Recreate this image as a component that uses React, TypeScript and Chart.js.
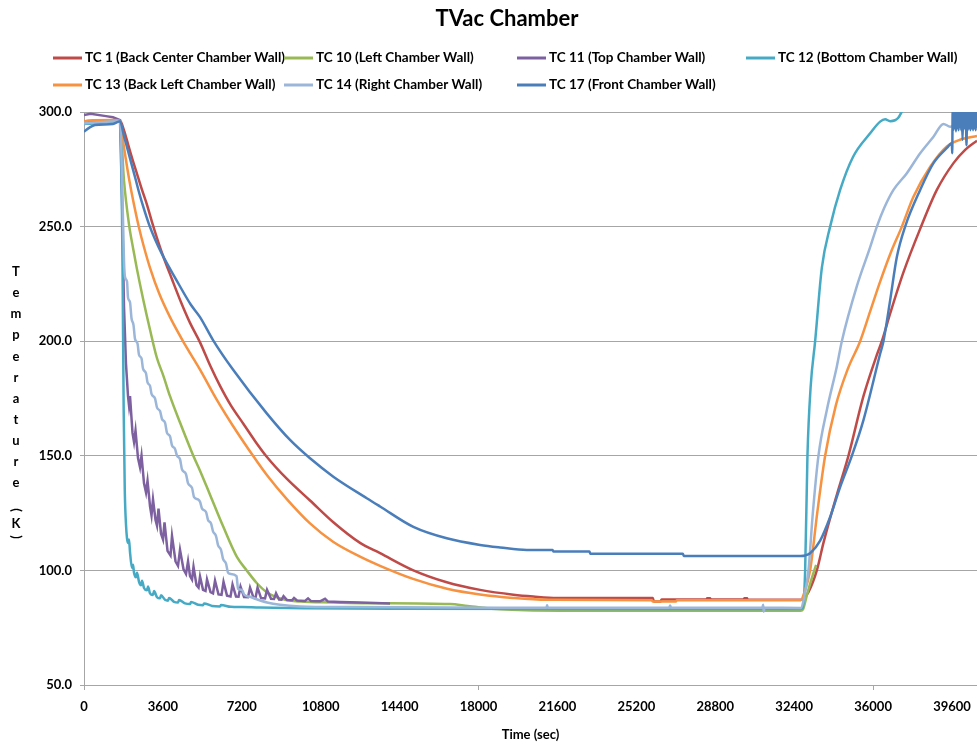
import React, { useEffect, useRef } from "react";
import { Chart, registerables } from "chart.js";

Chart.register(...registerables);

const chartTitle = "TVac Chamber";
const xAxisTitle = "Time (sec)";
const yAxisTitleChars = ["T", "e", "m", "p", "e", "r", "a", "t", "u", "r", "e"];
const xTickValues = [0, 3600, 7200, 10800, 14400, 18000, 21600, 25200, 28800, 32400, 36000, 39600];
const yTickValues = [50, 100, 150, 200, 250, 300];

const seriesNames = [
  "TC 1 (Back Center Chamber Wall)",
  "TC 10 (Left Chamber Wall)",
  "TC 11 (Top Chamber Wall)",
  "TC 12 (Bottom Chamber Wall)",
  "TC 13 (Back Left Chamber Wall)",
  "TC 14 (Right Chamber Wall)",
  "TC 17 (Front Chamber Wall)",
];
const seriesColors = ["#BE4B48", "#98B954", "#7D60A0", "#46AAC5", "#F69240", "#9BB6D8", "#4A7EBB"];
const smoothSeries = [true, true, false, true, true, true, true];

// [time (s), temperature (K)]
const tc1: number[][] = [
  [0, 295.8], [1000, 296.1], [1643, 296.2], [1825, 292], [2008, 286], [2190, 280], [2418, 273],
  [2647, 266], [2875, 259.5], [3103, 252], [3331, 245], [3559, 238.5], [4015, 227], [4426, 217],
  [4837, 208], [5293, 199.5], [5750, 189.5], [6206, 180.5], [6700, 172], [7269, 164], [7800, 156.5],
  [8337, 149.6], [9249, 140], [10312, 130.5], [11375, 121], [12594, 112], [13506, 107.5], [15026, 100],
  [16550, 94.8], [18069, 91.5], [19589, 89.4], [20500, 88.6], [21570, 88], [25950, 88], [26000, 86.4],
  [26300, 86.4], [26350, 87.3], [28400, 87.3], [28430, 87.8], [28560, 87.8], [28600, 87.3], [30100, 87.3],
  [30130, 87.8], [30250, 87.8], [30280, 87.3], [32700, 87.2], [32850, 88], [33050, 90.5], [33433, 100],
  [33735, 112], [34346, 133], [34875, 150], [35560, 176], [36170, 194], [36399, 200], [36776, 212],
  [37383, 230], [38147, 249], [38908, 266], [39667, 277.7], [40200, 283.5], [40740, 287.5],
];

const tc10: number[][] = [
  [0, 295], [300, 295.3], [1643, 296], [1825, 270], [2053, 251], [2250, 240], [2405, 232], [2706, 218],
  [3012, 205], [3317, 193], [3618, 185], [3924, 176], [4380, 164.5], [4987, 150], [5293, 143.5],
  [5749, 133], [6356, 119], [6968, 106], [7424, 100], [7880, 94.5], [8337, 90.5], [9094, 87.4],
  [9856, 86.4], [11362, 86], [12900, 85.7], [16700, 85.3], [17500, 84.5], [18982, 83], [21720, 82.4],
  [32700, 82.4], [32800, 83], [33000, 90], [33250, 98], [33400, 102.4],
];

const tc11: number[][] = [
  [0, 298.7], [300, 299.2], [1000, 298.2], [1320, 297.7], [1643, 296.5], [1734, 262], [1825, 215], [1916, 190],
  [2008, 176], [2053, 172], [2099, 176], [2213, 160], [2282, 156], [2350, 161], [2464, 149], [2555, 145],
  [2624, 150], [2738, 138], [2829, 134], [2898, 139], [3012, 128], [3080, 124], [3148, 131], [3263, 122],
  [3331, 119.5], [3399, 127], [3514, 116], [3605, 113.5], [3673, 121], [3810, 108.5], [3947, 106.5],
  [4015, 115], [4175, 104], [4289, 102], [4380, 109], [4540, 100.5], [4654, 98.5], [4746, 104],
  [4837, 97.5], [4928, 96], [4996, 101.6], [5133, 93.5], [5225, 92.5], [5293, 97.3], [5430, 91.5],
  [5544, 91], [5612, 96], [5772, 90.5], [5886, 90], [5978, 95.5], [6137, 89.5], [6274, 89.3], [6365, 95],
  [6525, 89], [6685, 88.6], [6776, 93.8], [6936, 88.6], [7050, 88.5], [7141, 92.9], [7301, 88.4],
  [7483, 88.3], [7575, 92.5], [7734, 88.1], [7825, 88], [7917, 92.5], [8077, 87.9], [8259, 87.8],
  [8350, 91.5], [8533, 87.6], [8670, 87.5], [8761, 90], [8898, 87.3], [9012, 87.2], [9103, 88.8],
  [9263, 87.1], [9491, 87], [9582, 88], [9719, 86.9], [10084, 86.7], [10221, 87.8], [10358, 86.6],
  [10769, 86.5], [10997, 87.6], [11134, 86.4], [11681, 86.2], [12594, 86], [13963, 85.6],
];

const tc12: number[][] = [
  [0, 294.8], [400, 295], [1643, 296], [1700, 285], [1760, 230], [1810, 170], [1860, 135], [1916, 120],
  [1962, 114], [2008, 112], [2053, 113.5], [2099, 108], [2190, 101], [2236, 102.5], [2282, 99], [2373, 97],
  [2418, 99], [2510, 95], [2601, 93.5], [2647, 95.5], [2738, 92.3], [2875, 91.3], [2920, 93], [3012, 90],
  [3148, 89.3], [3194, 91], [3331, 88.3], [3468, 87.8], [3514, 89.2], [3696, 87.2], [3833, 86.8], [3879, 88],
  [4106, 86.3], [4289, 86], [4335, 87.1], [4609, 85.6], [4837, 85.3], [4882, 86.2], [5202, 85], [5430, 84.8],
  [5476, 85.6], [5840, 84.5], [6206, 84.3], [6252, 84.9], [6700, 84.1], [7200, 84], [8000, 83.8],
  [10000, 83.5], [14000, 83.3], [32700, 83.2], [32780, 83.5], [32900, 100], [33005, 150], [33150, 180],
  [33356, 200], [33661, 232], [34040, 250], [34496, 266], [35089, 280.5], [35865, 290.7], [36321, 295.8],
  [36550, 296.8], [36777, 296], [37000, 296.4], [37150, 297.5], [37311, 300.2], [37500, 304],
];

const tc13: number[][] = [
  [0, 295.8], [200, 296.3], [1320, 296.5], [1643, 296.2], [1825, 284.5], [2053, 271], [2282, 259.5],
  [2510, 249.5], [2738, 241], [3012, 232], [3422, 221], [3924, 210.5], [4609, 198.5], [5293, 187.6],
  [6055, 174.5], [6799, 163], [7712, 150], [8350, 141.5], [9263, 131], [10312, 120.5], [11362, 112.5],
  [12594, 106], [13506, 102], [15012, 96.3], [16564, 92], [18069, 89.5], [19575, 88], [21127, 87.2],
  [25900, 87], [25950, 86.4], [27000, 86.4], [27050, 87], [32700, 87], [32850, 90], [33127, 100],
  [33450, 125], [33812, 150], [34300, 172], [34850, 188], [35409, 200], [35866, 213], [36321, 226],
  [36800, 238.5], [37312, 250], [37840, 263], [38600, 276], [39364, 285], [40000, 288], [40740, 289.5],
];

const tc14: number[][] = [
  [0, 295], [1643, 296], [1734, 272], [1825, 235], [1871, 228], [1962, 226], [2008, 219], [2099, 217],
  [2167, 210], [2259, 207], [2327, 201], [2441, 199], [2510, 194], [2624, 192.5], [2692, 188], [2829, 186],
  [2898, 182], [3012, 180.5], [3080, 177], [3240, 175], [3331, 171], [3468, 169.5], [3559, 166],
  [3696, 164.5], [3787, 160], [3924, 158.5], [4015, 154.5], [4152, 153], [4244, 150], [4380, 148.5],
  [4472, 144], [4654, 142], [4746, 138], [4928, 136], [5019, 132], [5202, 131], [5293, 130], [5384, 127],
  [5567, 125.5], [5658, 122], [5795, 120.5], [5886, 117], [6023, 115], [6114, 111], [6251, 109],
  [6343, 105], [6480, 103], [6571, 99], [6662, 98.5], [6959, 97.5], [7027, 92], [7210, 91.5], [7301, 89.5],
  [7575, 88.5], [7848, 87.5], [8350, 86], [8943, 85], [9856, 84.3], [12138, 84], [18982, 83.7],
  [21100, 83.7], [21127, 84.8], [21160, 83.7], [26700, 83.7], [26739, 84.7], [26780, 83.7], [30950, 83.7],
  [30983, 85], [31010, 82], [31040, 83.7], [32700, 83.6], [32850, 88], [33050, 100], [33250, 125],
  [33506, 150], [33890, 170], [34346, 189], [34574, 200], [35259, 224], [35866, 241], [36171, 250],
  [36500, 258], [36929, 266], [37540, 273.3], [38147, 282], [38754, 289.2], [39210, 294.8], [39516, 293.6],
  [39800, 294.5], [40740, 296],
];

const tc17: number[][] = [
  [0, 291.4], [250, 293.2], [500, 294.3], [1320, 294.8], [1643, 296], [1825, 289.5], [2008, 283],
  [2190, 276.5], [2373, 270], [2510, 265], [2692, 259], [2966, 251], [3240, 244.5], [3559, 238],
  [4198, 227], [4869, 216], [5293, 210.5], [5886, 200.5], [6813, 187.4], [8337, 168.5], [9400, 156.9],
  [10312, 148.9], [11375, 140.9], [12900, 131.5], [13506, 127.9], [15026, 119], [16550, 114],
  [18069, 111.1], [18982, 110], [20200, 108.9], [21380, 108.9], [21420, 108.2], [23060, 108.2],
  [23100, 107.3], [27320, 107.3], [27360, 106.3], [32700, 106.3], [32900, 106.5], [33128, 107.5],
  [33585, 113], [34040, 123.3], [34496, 136.4], [35030, 150], [35560, 165.6], [36321, 194.5], [36472, 200],
  [36777, 217.8], [37083, 236.7], [37462, 250], [38147, 266], [38754, 277.7], [39364, 284.3], [39593, 286.4],
  [39610, 282], [39630, 301], [39660, 292], [39690, 301], [39720, 293], [39750, 301], [39780, 291.5],
  [39810, 301], [39840, 293], [39870, 301], [39900, 292], [39930, 301], [39960, 293.5], [39990, 301],
  [40020, 292], [40050, 301], [40080, 287.8], [40110, 301], [40140, 292.5], [40170, 301], [40200, 293],
  [40230, 301], [40260, 285.5], [40290, 301], [40320, 292], [40350, 301], [40380, 293], [40410, 301],
  [40440, 292], [40470, 301], [40500, 293], [40530, 301], [40560, 292], [40590, 301], [40620, 293],
  [40650, 301], [40680, 292], [40710, 301], [40740, 293],
];

const seriesData = [tc1, tc10, tc11, tc12, tc13, tc14, tc17];

const legendCols = [53, 284, 517, 746];
const legendRows = [58, 85];

const textPlugin = {
  id: "tvacText",
  afterDraw(chart: any) {
    const ctx = chart.ctx as CanvasRenderingContext2D;
    ctx.save();
    ctx.fillStyle = "#000";
    ctx.textBaseline = "middle";
    ctx.textAlign = "center";
    ctx.font = "bold 22px Lato";
    ctx.fillText(chartTitle, 507, 19);

    ctx.font = "bold 13.5px Lato";
    ctx.textAlign = "left";
    seriesNames.forEach((name, i) => {
      const col = i < 4 ? i : i - 4;
      const row = i < 4 ? 0 : 1;
      const x = legendCols[col];
      const y = legendRows[row];
      ctx.strokeStyle = seriesColors[i];
      ctx.lineWidth = 3;
      ctx.beginPath();
      ctx.moveTo(x, y);
      ctx.lineTo(x + 29, y);
      ctx.stroke();
      ctx.fillStyle = "#000";
      ctx.fillText(name, x + 32, y);
    });

    ctx.font = "bold 13px Lato";
    ctx.textAlign = "center";
    yAxisTitleChars.forEach((c, i) => {
      ctx.fillText(c, 16, 272 + i * 21.1);
    });
    const drawRot = (c: string, y: number) => {
      ctx.save();
      ctx.translate(16, y);
      ctx.rotate(Math.PI / 2);
      ctx.fillText(c, 0, 0);
      ctx.restore();
    };
    drawRot("(", 510);
    ctx.fillText("K", 16, 524);
    drawRot(")", 537);
    ctx.restore();
  },
};

export default function App() {
  const ref = useRef<HTMLCanvasElement>(null);
  useEffect(() => {
    if (!ref.current) return;
    Chart.defaults.font.family = "Lato, sans-serif";
    const grid = "#A6A6A6";
    const chart = new Chart(ref.current, {
      type: "scatter",
      data: {
        datasets: seriesNames.map((name, i) => ({
          label: name,
          data: seriesData[i].map(([x, y]) => ({ x, y })),
          borderColor: seriesColors[i],
          backgroundColor: seriesColors[i],
          showLine: true,
          borderWidth: 2.5,
          pointRadius: 0,
          cubicInterpolationMode: smoothSeries[i] ? "monotone" : "default",
          tension: 0,
          order: seriesNames.length - i,
        })),
      },
      options: {
        animation: false,
        responsive: false,
        layout: { padding: { top: 112, left: 0, right: 0, bottom: 0 } },
        plugins: {
          legend: { display: false },
          title: { display: false },
          tooltip: { enabled: false },
        },
        scales: {
          x: {
            type: "linear",
            min: 0,
            max: 40740,
            afterBuildTicks: (s: any) => {
              s.ticks = xTickValues.map((v) => ({ value: v }));
            },
            afterFit: (s: any) => {
              s.height = 63;
              s.paddingRight = 0;
              s.paddingLeft = 0;
            },
            ticks: {
              font: { size: 13, weight: "bold" },
              color: "#000",
              padding: 9,
              maxRotation: 0,
              autoSkip: false,
              callback: (v: any) => String(v),
            },
            grid: {
              drawOnChartArea: false,
              drawTicks: true,
              tickLength: 5,
              color: grid,
              tickColor: (c: any) => (c.tick && c.tick.value % 18000 === 0 ? grid : "rgba(0,0,0,0)"),
            },
            border: { display: true, color: grid },
            title: {
              display: true,
              text: xAxisTitle,
              font: { size: 13, weight: "bold" },
              color: "#000",
              padding: { top: 0, bottom: 5 },
            },
          },
          y: {
            type: "linear",
            min: 50,
            max: 300,
            afterBuildTicks: (s: any) => {
              s.ticks = yTickValues.map((v) => ({ value: v }));
            },
            afterFit: (s: any) => {
              s.width = 84;
            },
            ticks: {
              font: { size: 13, weight: "bold" },
              color: "#000",
              padding: 8,
              callback: (v: any) => Number(v).toFixed(1),
            },
            grid: { color: grid, tickLength: 4, lineWidth: 1 },
            border: { display: true, color: grid },
          },
        },
      },
      plugins: [textPlugin],
    } as any);
    return () => chart.destroy();
  }, []);
  return (
    <div style={{ position: "absolute", left: 0, top: 0, width: 977, height: 748, background: "#fff" }}>
      <canvas ref={ref} width={977} height={748} style={{ display: "block" }} />
    </div>
  );
}
